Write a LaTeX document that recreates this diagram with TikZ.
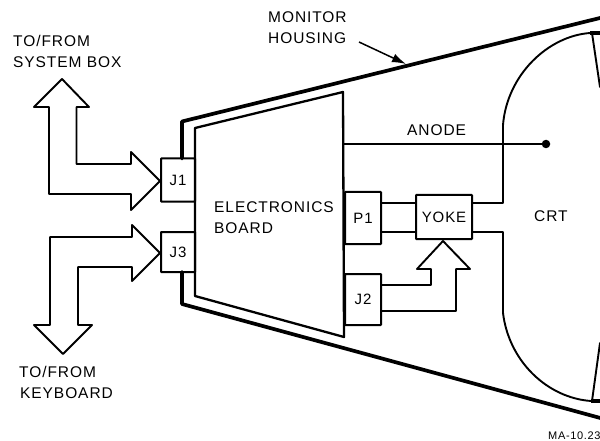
\documentclass[tikz,border=0pt]{standalone}
\usepackage{fontspec}
\setmainfont[LetterSpace=6]{Liberation Sans}
\usetikzlibrary{calc,arrows.meta}
\tikzset{
  thinline/.style={line width=1.9pt,line join=round,line cap=round},
  thickline/.style={line width=3.7pt,line join=round,line cap=round},
  boxnode/.style={draw,line width=2pt,inner sep=0pt,outer sep=0pt,rounded corners=0.6pt},
  lab/.style={inner sep=0pt,anchor=west,font=\fontsize{15.5}{17}\selectfont},
  boxlab/.style={font=\fontsize{15}{17}\selectfont}
}
\begin{document}
\begin{tikzpicture}[x=1pt,y=-1pt]
\useasboundingbox (0,0) rectangle (600,441);
\clip (0,0) rectangle (600,441);
% connector boxes
\node[boxnode,boxlab,minimum width=34pt,minimum height=43pt] (J1) at (178,180) {J1};
\node[boxnode,boxlab,minimum width=34pt,minimum height=40pt] (J3) at (178,252) {J3};
\node[boxnode,boxlab,minimum width=36pt,minimum height=52pt] (P1) at (363,218) {P1};
\node[boxnode,boxlab,minimum width=36pt,minimum height=51pt] (J2) at (363,299.5) {J2};
\node[boxnode,boxlab,minimum width=56pt,minimum height=44pt] (yoke) at (444,217) {YOKE};
% housing
\coordinate (htl) at (182,121.5);
\coordinate (hbl) at (182,304);
\coordinate (htr) at (604,17);
\coordinate (hbr) at (604,419);
\draw[thickline] (htl |- J1.north) -- (htl) -- (htr);
\draw[thickline] (hbl |- J3.south) -- (hbl) -- (hbr);
% electronics board
\coordinate (b1) at (195,128);
\coordinate (b2) at (343,92);
\coordinate (b3) at (344,337);
\coordinate (b4) at (195,296);
\draw[line width=2.3pt,line join=round] (b1) -- (b2) -- (b3) -- (b4) -- cycle;
% P1 to yoke
\draw[thinline] ($(P1.east |- yoke.north)+(0,8)$) coordinate (pa) -- (pa -| yoke.west);
\draw[thinline] ($(P1.east |- yoke.south)+(0,-7)$) coordinate (pb) -- (pb -| yoke.west);
% CRT
\coordinate (ct) at (590,33);
\coordinate (cb) at (591,401);
\coordinate (cta) at (503,203);
\coordinate (cba) at (503,232);
\draw[thinline] (yoke.east |- cta) -- (cta) -- (503,125) .. controls (507,75) and (548,36) .. (ct);
\draw[thinline] (yoke.east |- cba) -- (cba) -- (503,313) .. controls (509,362) and (548,398) .. (cb);
\draw[thickline,line cap=butt] (ct) -- (604,33);
\draw[thickline,line cap=butt] (cb) -- (604,401);
\draw[thinline] (592,33) -- (600,87);
\draw[thinline] (592,401) -- (600,343);
% anode
\node[circle,fill,inner sep=0pt,minimum size=8.5pt] (anodedot) at (546,144) {};
\coordinate (anodestart) at (344,144);
\draw[line width=1.2pt] (anodestart) -- (anodedot);
% system box arrow
\draw[thinline] (J1.west) ++(-1,1) coordinate (s1)
  (s1) -- (131,152) -- (131,164) -- (76.5,164) -- (76.5,107) -- (89,107) -- (62,79) -- (34,107) -- (49,107) -- (49,194) -- (131,194) -- (131,210) -- cycle;
% keyboard arrow
\draw[thinline] (J3.west) ++(-1,1) coordinate (k1)
  (k1) -- (132,225) -- (132,237) -- (50,237) -- (50,325) -- (34,325) -- (63,354) -- (92,325) -- (78,325) -- (78,267) -- (132,267) -- (132,281) -- cycle;
% J2 to yoke arrow
\coordinate (ytip) at (443,241);
\coordinate (ja) at (431,285);
\coordinate (jb) at (456,311);
\draw[thinline] (J2.east |- ja) -- (ja) -- (431,269) -- (417,269) -- (ytip) -- (470,269) -- (456,269) -- (jb) -- (J2.east |- jb);
% monitor housing pointer
\coordinate (mstart) at (359,42);
\coordinate (mend) at (406,64);
\draw[line width=1.5pt,-{Latex[length=14pt,width=9pt]}] (mstart) -- (mend);
% labels
\node[lab] (t1) at (268,17) {MONITOR};
\node[lab] (t2) at (268,38) {HOUSING};
\node[lab] (t3) at (13,41) {TO/FROM};
\node[lab] (t4) at (13,62) {SYSTEM BOX};
\node[lab] (t5) at (19,372) {TO/FROM};
\node[lab] (t6) at (20,393) {KEYBOARD};
\node[lab] (t7) at (407,130) {ANODE};
\node[lab] (t8) at (214,207) {ELECTRONICS};
\node[lab] (t9) at (214,228) {BOARD};
\node[lab] (t10) at (534,216) {CRT};
\node[inner sep=0pt,anchor=west,font=\fontsize{11}{12}\selectfont] (t11) at (548,436) {MA-10.23};
\end{tikzpicture}
\end{document}
